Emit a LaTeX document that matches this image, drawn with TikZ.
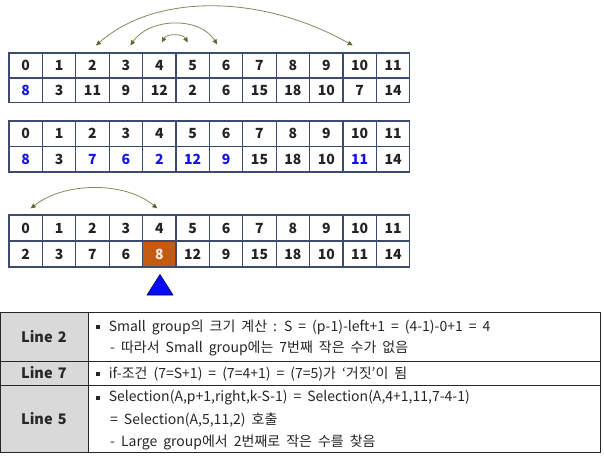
\documentclass[tikz,border=0pt]{standalone}
\usepackage{fontspec}
\setmainfont{Noto Sans}
\newfontfamily\kr{Noto Sans CJK KR}
\usetikzlibrary{arrows.meta,calc}
\definecolor{gridc}{RGB}{60,75,110}
\definecolor{bluenum}{RGB}{20,20,225}
\definecolor{numc}{RGB}{35,35,35}
\definecolor{orangec}{RGB}{197,90,17}
\definecolor{arcc}{RGB}{135,135,95}
\definecolor{tipc}{RGB}{95,105,45}
\definecolor{hdrc}{RGB}{217,217,217}
\definecolor{triblue}{RGB}{10,10,250}
\newcommand{\widesp}{\spaceskip=6pt\relax}
\tikzset{
  cell/.style={draw=gridc,line width=1.1pt,minimum width=33.4pt,inner sep=0pt,
    text height=10pt,text depth=0pt,
    font=\kr\fontsize{14}{14}\selectfont\bfseries,text=numc},
  swaparc/.style={draw=arcc,line width=0.8pt,
    {Triangle[length=5pt,width=4.5pt,fill=tipc,color=tipc]}-{Triangle[length=5pt,width=4.5pt,fill=tipc,color=tipc]}},
  tline/.style={draw=black!85,line width=1pt},
  hdr/.style={font=\kr\fontsize{14.5}{14.5}\selectfont\bfseries,text=black!85},
  ttext/.style={anchor=west,inner sep=0pt,font=\kr\fontsize{14}{14}\selectfont\widesp,text=black!85},
}
\newcommand{\bul}{\raisebox{2.4pt}{\rule{3.6pt}{3.6pt}}}
\begin{document}
\begin{tikzpicture}[x=1pt,y=-1pt]
\useasboundingbox (0,0) rectangle (604,457);
% ---------- array 1
\foreach \v/\c [count=\i from 0] in {8/bluenum,3/numc,11/numc,9/numc,12/numc,2/numc,6/numc,15/numc,18/numc,10/numc,7/numc,14/numc}{
  \node[cell,minimum height=25pt] (a1-\i) at ({9+33.4*\i+16.7},65.5) {\i};
  \node[cell,minimum height=24.5pt,text=\c] (b1-\i) at ({9+33.4*\i+16.7},90.5) {\v};
}
% ---------- array 2
\foreach \v/\c [count=\i from 0] in {8/bluenum,3/numc,7/bluenum,6/bluenum,2/bluenum,12/bluenum,9/bluenum,15/numc,18/numc,10/numc,11/bluenum,14/numc}{
  \node[cell,minimum height=25.5pt] (a2-\i) at ({9+33.4*\i+16.7},133.75) {\i};
  \node[cell,minimum height=25.5pt,text=\c] (b2-\i) at ({9+33.4*\i+16.7},159.25) {\v};
}
% ---------- array 3
\foreach \v/\f/\c [count=\i from 0] in {2/white/numc,3/white/numc,7/white/numc,6/white/numc,8/orangec/white!90!orange,12/white/numc,9/white/numc,15/white/numc,18/white/numc,10/white/numc,11/white/numc,14/white/numc}{
  \node[cell,minimum height=26pt] (a3-\i) at ({9+33.4*\i+16.7},228) {\i};
  \node[cell,minimum height=26pt,fill=\f,text=\c] (b3-\i) at ({9+33.4*\i+16.7},254) {\v};
}
% ---------- arcs
\coordinate (p2) at ($(a1-2.north)+(3.5,-7)$);
\coordinate (p10) at ($(a1-10.north)+(-7,-7)$);
\coordinate (p3) at ($(a1-3.north)+(4.5,-7)$);
\coordinate (p6) at ($(a1-6.north)+(-9,-8)$);
\coordinate (p4) at ($(a1-4.north)+(2.5,-10)$);
\coordinate (p5) at ($(a1-5.north)+(-5,-10)$);
\draw[swaparc] (p2) .. controls ($(p2)+(59,-52)$) and ($(p10)+(-92,-52)$) .. (p10);
\draw[swaparc] (p3) .. controls ($(p3)+(19,-28)$) and ($(p6)+(-17,-28)$) .. (p6);
\draw[swaparc] (p4) .. controls ($(p4)+(5,-9)$) and ($(p5)+(-5,-9)$) .. (p5);
\coordinate (q0) at ($(a3-0.north)+(5,-6)$);
\coordinate (q4) at ($(a3-4.north)+(-2,-6)$);
\draw[swaparc] (q0) .. controls ($(q0)+(34,-27)$) and ($(q4)+(-32,-27)$) .. (q4);
% ---------- pointer triangle
\draw[draw=black!70!blue,fill=triblue,line width=0.6pt,line join=round] (147,295) -- (160,274.5) -- (173,295) -- cycle;
% ---------- table
\fill[hdrc] (0,312) rectangle (88,452);
\draw[tline] (0,312) rectangle (600,452);
\draw[tline] (88,312) -- (88,452);
\draw[tline] (0,361) -- (600,361);
\draw[tline] (0,385) -- (600,385);
\node[hdr] (h2) at (44,336.5) {Line\hspace{2pt} 2};
\node[hdr] (h7) at (44,373) {Line\hspace{2pt} 7};
\node[hdr] (h5) at (44,418.5) {Line\hspace{2pt} 5};
\node[ttext] (t1) at (96,327) {\bul\hspace{9pt}Small group의 크기 계산 : S = (p-1)-left+1 = (4-1)-0+1 = 4};
\node[ttext] (t2) at (110,348) {- 따라서 Small group에는 7번째 작은 수가 없음};
\node[ttext] (t3) at (96,374) {\bul\hspace{9pt}if-조건 (7=S+1) = (7=4+1) = (7=5)가 ‘거짓’이 됨};
\node[ttext] (t4) at (96,398) {\bul\hspace{9pt}Selection(A,p+1,right,k-S-1) = Selection(A,4+1,11,7-4-1)};
\node[ttext] (t5) at (110,420) {= Selection(A,5,11,2) 호출};
\node[ttext] (t6) at (110,442) {- Large group에서 2번째로 작은 수를 찾음};
\end{tikzpicture}
\end{document}
